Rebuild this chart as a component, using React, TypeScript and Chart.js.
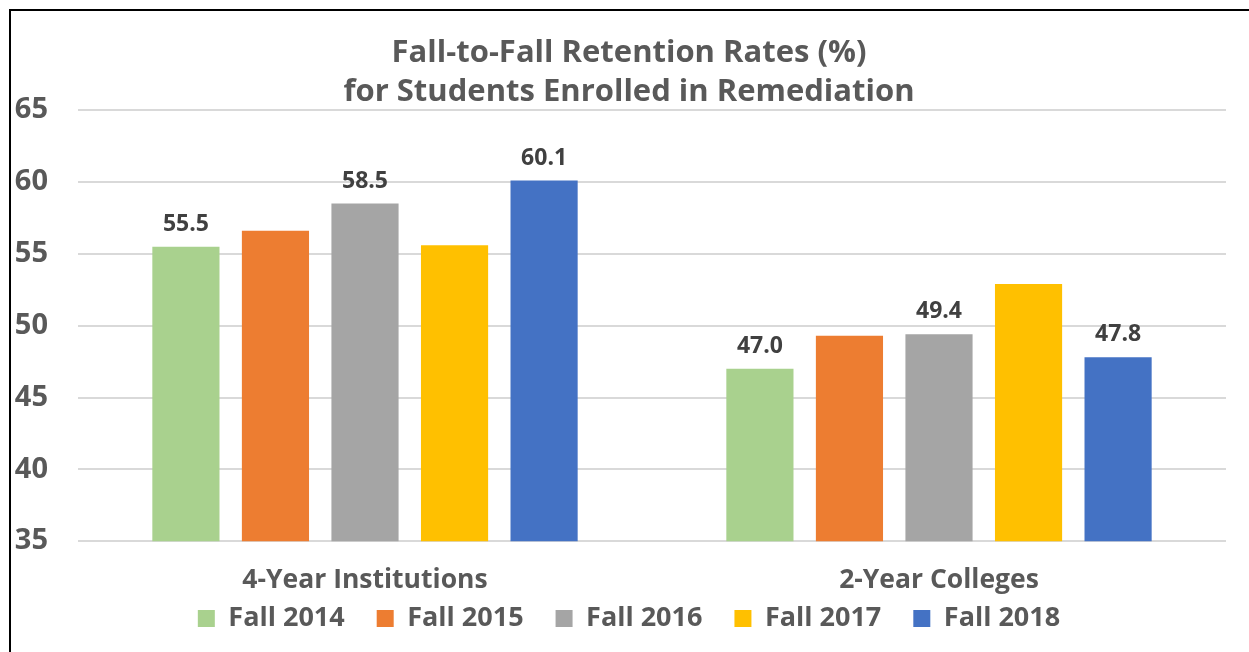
import React, { useEffect, useRef } from "react";
import { Chart, registerables } from "chart.js";

Chart.register(...registerables);

const categories = ["4-Year Institutions", "2-Year Colleges"];
const seriesNames = ["Fall 2014", "Fall 2015", "Fall 2016", "Fall 2017", "Fall 2018"];
const fall2014 = [55.5, 47.0];
const fall2015 = [56.6, 49.3];
const fall2016 = [58.5, 49.4];
const fall2017 = [55.6, 52.9];
const fall2018 = [60.1, 47.8];
const seriesColors = ["#A9D18E", "#ED7D31", "#A5A5A5", "#FFC000", "#4472C4"];
const labeledSeries = ["Fall 2014", "Fall 2016", "Fall 2018"];
const titleLines = ["Fall-to-Fall Retention Rates (%)", "for Students Enrolled in Remediation"];
const yMin = 35;
const yMax = 65;
const yStep = 5;

const FONT = "'Open Sans', sans-serif";

const dataLabelPlugin = {
  id: "dataLabels",
  afterDatasetsDraw(chart: any) {
    const ctx = chart.ctx;
    ctx.save();
    ctx.font = `bold 23px ${FONT}`;
    ctx.fillStyle = "#404040";
    ctx.textAlign = "center";
    ctx.textBaseline = "alphabetic";
    chart.data.datasets.forEach((ds: any, i: number) => {
      if (!labeledSeries.includes(ds.label)) return;
      const meta = chart.getDatasetMeta(i);
      meta.data.forEach((bar: any, j: number) => {
        ctx.fillText(Number(ds.data[j]).toFixed(1), bar.x, bar.y - 16);
      });
    });
    ctx.restore();
  },
};

// Legend: keep wide horizontal item spacing (labels.padding) but a compact vertical footprint
const legendCompactPlugin = {
  id: "legendCompact",
  beforeInit(chart: any) {
    const lg = chart.legend;
    if (lg) {
      const orig = lg.fit;
      lg.fit = function () {
        orig.call(this);
        this.height = 56;
      };
    }
  },
  afterLayout(chart: any) {
    const lg = chart.legend;
    if (lg) {
      lg.top -= 23;
      lg.bottom -= 23;
    }
  },
};

export default function App() {
  const canvasRef = useRef<HTMLCanvasElement | null>(null);

  useEffect(() => {
    if (!canvasRef.current) return;
    const allSeries = [fall2014, fall2015, fall2016, fall2017, fall2018];
    const chart = new Chart(canvasRef.current, {
      type: "bar",
      data: {
        labels: categories,
        datasets: seriesNames.map((name, i) => ({
          label: name,
          data: allSeries[i],
          backgroundColor: seriesColors[i],
          borderWidth: 0,
          barPercentage: 0.75,
          categoryPercentage: 0.78,
          yAxisID: "y",
        })),
      },
      options: {
        animation: false,
        responsive: false,
        maintainAspectRatio: false,
        layout: { padding: { left: 4, right: 6, top: 0, bottom: 0 } },
        plugins: {
          title: {
            display: true,
            text: titleLines,
            color: "#595959",
            font: { family: FONT, size: 31, weight: "bold", lineHeight: 1.26 },
            padding: { top: 23, bottom: -2 },
          },
          legend: {
            position: "bottom",
            labels: {
              color: "#595959",
              font: { family: FONT, size: 27, weight: "bold" },
              boxWidth: 17,
              boxHeight: 17,
              padding: 32,
            },
          },
          tooltip: { enabled: false },
        },
        scales: {
          x: {
            grid: { display: false, drawTicks: false },
            border: { display: false },
            ticks: {
              color: "#595959",
              font: { family: FONT, size: 26.5, weight: "bold" },
              padding: 23,
              maxRotation: 0,
              autoSkip: false,
            },
            afterFit(scale: any) {
              scale.height = 54.8;
            },
          },
          y: {
            position: "left",
            min: yMin,
            max: yMax,
            grid: { color: "#D9D9D9", lineWidth: 2, drawTicks: false },
            border: { display: false },
            ticks: {
              stepSize: yStep,
              color: "#595959",
              font: { family: FONT, size: 29, weight: "bold" },
              padding: 30,
            },
            afterFit(scale: any) {
              scale.width = 63;
            },
          },
          rightGap: {
            type: "linear",
            position: "right",
            display: true,
            grid: { display: false, drawTicks: false },
            border: { display: false },
            ticks: { display: false },
            afterFit(scale: any) {
              scale.width = 17;
            },
          },
        },
      },
      plugins: [dataLabelPlugin, legendCompactPlugin],
    });
    return () => chart.destroy();
  }, []);

  return (
    <div
      style={{
        position: "absolute",
        left: 9,
        top: 9,
        width: 1240,
        height: 643,
        borderLeft: "2px solid #000",
        borderTop: "2px solid #000",
        background: "#fff",
        overflow: "hidden",
      }}
    >
      <canvas ref={canvasRef} width={1238} height={641} style={{ display: "block" }} />
    </div>
  );
}
